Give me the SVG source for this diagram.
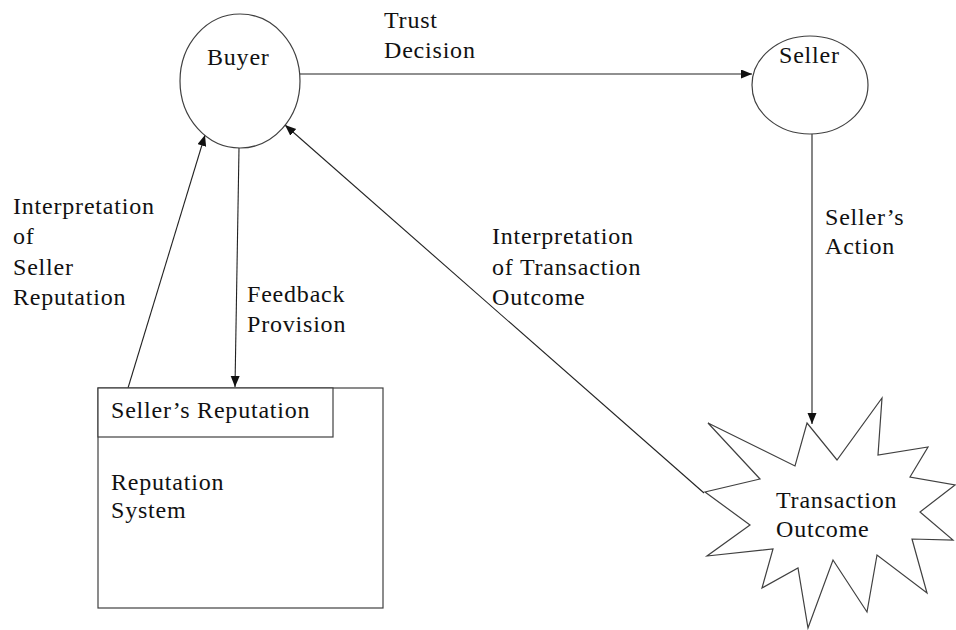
<svg xmlns="http://www.w3.org/2000/svg" width="956" height="630" viewBox="0 0 956 630">
  <style>
    .shape { fill: #ffffff; stroke: #404040; stroke-width: 1.2; }
    .edge { fill: none; stroke: #222222; stroke-width: 1.1; marker-end: url(#arrow); }
    text { font-family: "Liberation Serif", "Times New Roman", serif; font-size: 24px; letter-spacing: 0.8px; fill: #111111; }
  </style>
  <defs>
    <marker id="arrow" markerUnits="userSpaceOnUse" markerWidth="12" markerHeight="10" refX="11" refY="4.5" orient="auto">
      <path d="M0,0 L11,4.5 L0,9 Z" fill="#111111"/>
    </marker>
  </defs>
  <rect width="956" height="630" fill="#ffffff"/>

  <!-- connectors -->
  <g id="connectors">
    <line class="edge" x1="299" y1="74" x2="752" y2="74"/>
    <line class="edge" x1="812" y1="134" x2="812" y2="424"/>
    <line class="edge" x1="704" y1="493" x2="285" y2="125"/>
    <line class="edge" x1="239" y1="148" x2="235" y2="387"/>
    <line class="edge" x1="128" y1="388" x2="205" y2="135"/>
    <text x="384" y="28">Trust</text>
    <text x="384" y="58">Decision</text>
    <text x="825" y="225">Seller’s</text>
    <text x="825" y="254">Action</text>
    <text x="492" y="244">Interpretation</text>
    <text x="492" y="275">of Transaction</text>
    <text x="492" y="305">Outcome</text>
    <text x="247" y="302">Feedback</text>
    <text x="247" y="332">Provision</text>
    <text x="13" y="214">Interpretation</text>
    <text x="13" y="244">of</text>
    <text x="13" y="275">Seller</text>
    <text x="13" y="305">Reputation</text>
  </g>

  <!-- buyer -->
  <g id="buyer">
    <ellipse class="shape" cx="240" cy="81" rx="60" ry="67"/>
    <text x="207" y="65">Buyer</text>
  </g>

  <!-- seller -->
  <g id="seller">
    <ellipse class="shape" cx="810" cy="85" rx="58" ry="49"/>
    <text x="779" y="63">Seller</text>
  </g>

  <!-- reputation system with seller's reputation compartment -->
  <g id="reputation-system">
    <rect class="shape" x="98" y="388" width="285" height="220"/>
    <rect class="shape" x="98" y="388" width="235" height="49"/>
    <text x="111" y="418">Seller’s Reputation</text>
    <text x="111" y="490">Reputation</text>
    <text x="111" y="518">System</text>
  </g>

  <!-- transaction outcome burst -->
  <g id="transaction-outcome">
    <polygon class="shape" points="807,423 837,460 882,398 878,455 928,447 910,477 955,485 920,512 953,540 912,539 927,593 877,555 867,612 833,560 808,628 798,568 762,588 773,549 707,556 750,525 705,492 760,479 708,423 795,466"/>
    <text x="776" y="508">Transaction</text>
    <text x="776" y="537">Outcome</text>
  </g>
</svg>
